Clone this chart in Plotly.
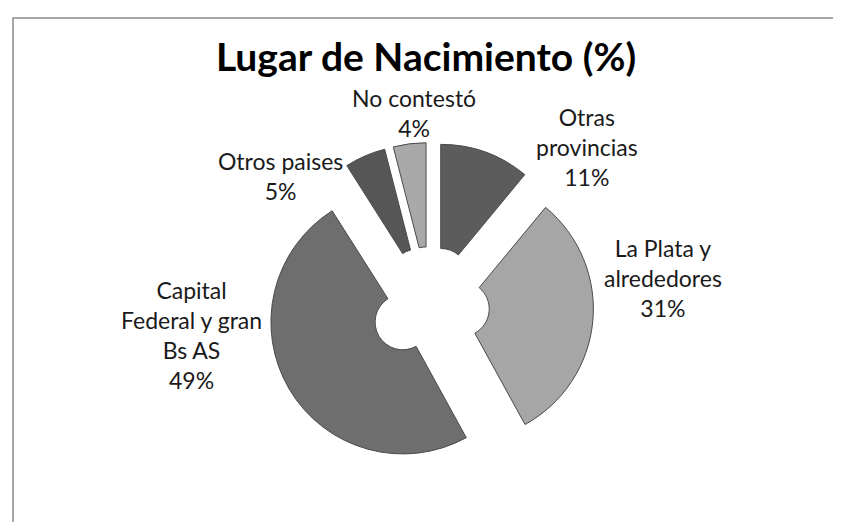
import plotly.graph_objects as go

labels = ["Otras provincias", "La Plata y alrededores", "Capital Federal y gran Bs AS",
          "Otros paises", "No contestó"]
label_lines = ["Otras<br>provincias", "La Plata y<br>alrededores", "Capital<br>Federal y gran<br>Bs AS",
               "Otros paises", "No contestó"]
values = [11, 31, 49, 5, 4]
colors = ["#5c5c5c", "#a6a6a6", "#6e6e6e", "#565656", "#a9a9a9"]

# label centres in pixels
label_pos = [(579, 139), (655, 270), (183, 327), (272, 168), (406, 105)]

W, H = 841, 522
FONT = "Lato"

fig = go.Figure()
fig.add_trace(go.Pie(
    labels=labels, values=values, sort=False, direction="clockwise", rotation=0,
    hole=0.21, pull=[0.24] * len(values),
    marker=dict(colors=colors, line=dict(color="#4a4a4a", width=1)),
    textinfo="none", hoverinfo="label+percent",
    domain=dict(x=[0.3074, 0.6962], y=[0.1159, 0.7424]),
    showlegend=False,
))

for txt, v, (px, py) in zip(label_lines, values, label_pos):
    fig.add_annotation(x=px / W, y=1 - py / H, xref="paper", yref="paper",
                       text=f"{txt}<br>{v}%", showarrow=False,
                       font=dict(family=FONT, size=23, color="#1a1a1a"),
                       align="center", xanchor="center", yanchor="middle")

fig.add_shape(type="rect", xref="paper", yref="paper",
              x0=5 / W, x1=1.05, y0=-0.05, y1=1 - 10 / H,
              line=dict(color="#8c8c8c", width=1.5))

fig.update_layout(
    width=W, height=H, margin=dict(l=0, r=0, t=0, b=0),
    paper_bgcolor="white", plot_bgcolor="white",
    title=dict(text="<b>Lugar de Nacimiento (%)</b>", x=418 / W, xanchor="center",
               y=1 - 49 / H, yanchor="middle",
               font=dict(family=FONT, size=39, color="black")),
)
fig.write_html("out.html")
